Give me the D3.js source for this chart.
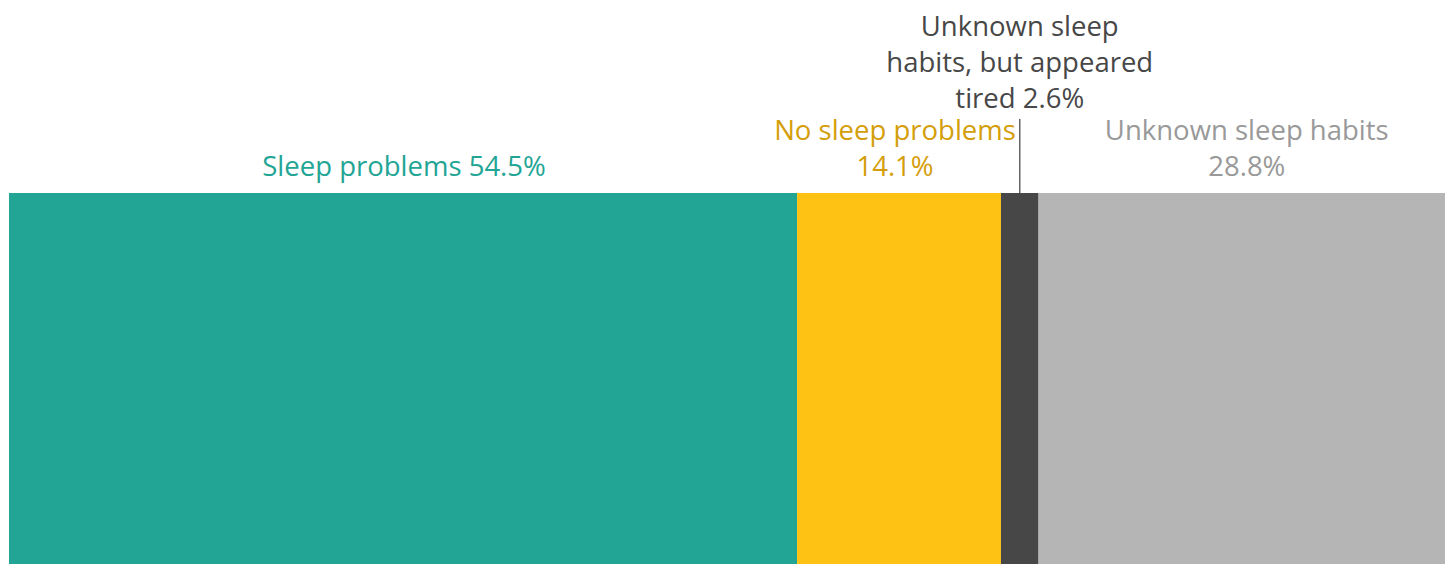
<!DOCTYPE html>
<html>
<head>
<meta charset="utf-8">
<script src="https://cdn.jsdelivr.net/npm/d3@7"></script>
<style>
  body { margin: 0; background: #fff; }
  svg { display: block; font-family: "Open Sans", sans-serif; }
</style>
</head>
<body>
<svg id="chart"></svg>
<script>
const categories = ["Sleep problems", "No sleep problems", "Unknown sleep habits, but appeared tired", "Unknown sleep habits"];
const values = [54.5, 14.1, 2.6, 28.8];
const barColors = ["#22a595", "#fec214", "#474747", "#b5b5b5"];
const labelColors = ["#22a595", "#d49e0a", "#474747", "#999999"];
// label lines as shown in the chart
const labelLines = [
  ["Sleep problems 54.5%"],
  ["No sleep problems", "14.1%"],
  ["Unknown sleep", "habits, but appeared", "tired 2.6%"],
  ["Unknown sleep habits", "28.8%"]
];

const width = 1445, height = 564;
const svg = d3.select("#chart").attr("width", width).attr("height", height);

// bar runs a little past the right edge of the picture
const x = d3.scaleLinear().domain([0, d3.sum(values)]).range([9, 1455]);
const barTop = 193;
const lineH = 36;

const stack = [];
let acc = 0;
values.forEach((v, i) => {
  stack.push({ i, key: categories[i], x0: acc, x1: acc + v });
  acc += v;
});

svg.append("g")
  .selectAll("rect")
  .data(stack)
  .join("rect")
  .attr("x", d => x(d.x0))
  .attr("y", barTop)
  .attr("width", d => x(d.x1) - x(d.x0))
  .attr("height", height - barTop)
  .attr("fill", d => barColors[d.i]);

// leader line for the small segment
const small = stack[2];
svg.append("line")
  .attr("x1", x((small.x0 + small.x1) / 2))
  .attr("x2", x((small.x0 + small.x1) / 2))
  .attr("y1", 119)
  .attr("y2", barTop)
  .attr("stroke", "#666")
  .attr("stroke-width", 1.5);

// yellow label sits a bit left so it clears the leader line
const nudge = [1, -4, 0, 0];

const labels = svg.append("g")
  .selectAll("text")
  .data(stack)
  .join("text")
  .attr("text-anchor", "middle")
  .attr("font-size", 27.5)
  .attr("fill", d => labelColors[d.i]);

labels.each(function (d) {
  const lines = labelLines[d.i];
  const lastBase = d.i === 2 ? 108 : 176;
  d3.select(this).selectAll("tspan")
    .data(lines)
    .join("tspan")
    .attr("x", x((d.x0 + d.x1) / 2) + nudge[d.i])
    .attr("y", (t, j) => lastBase - (lines.length - 1 - j) * lineH)
    .text(t => t);
});
</script>
</body>
</html>
